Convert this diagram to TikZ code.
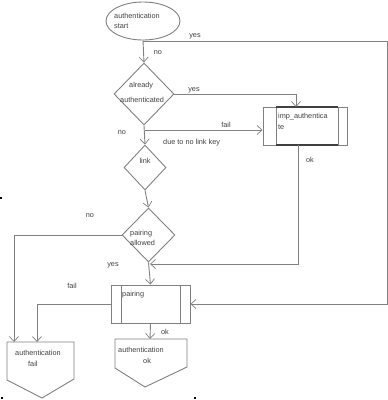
\documentclass[tikz,border=0pt]{standalone}
\usepackage{fontspec}
\setmainfont{Liberation Sans}
\usetikzlibrary{arrows.meta,shapes.geometric}
\definecolor{ln}{HTML}{808080}
\definecolor{tx}{HTML}{404040}
\tikzset{
  flow/.style={draw=ln,line width=0.9pt},
  arr/.style={flow,-{Straight Barb[length=5pt,width=9pt,line width=0.7pt]}},
  lbl/.style={text=tx,font=\fontsize{7.3}{9}\selectfont,inner sep=0pt,anchor=base},
  lblw/.style={lbl,anchor=base west},
  dia/.style={diamond,draw=ln,line width=0.9pt,inner sep=0pt,aspect=1},
  dot/.style={fill=black,draw=none,minimum size=2.5pt,inner sep=0pt,rectangle}
}
\begin{document}
\begin{tikzpicture}[x=1pt,y=-1pt]
\useasboundingbox (0,0) rectangle (388,400);
% start ellipse
\node[ellipse,draw=ln,line width=0.9pt,minimum width=74pt,minimum height=38pt,inner sep=0pt] (start) at (143,21) {};
\node[lblw] (tstart1) at (114,18) {authentication};
\node[lblw] (tstart2) at (114,28) {start};
% diamonds
\node[dia,minimum width=60pt,minimum height=62pt,aspect=0.97] (d1) at (144,94) {};
\node[lblw] (td1a) at (129,87) {already};
\node[lblw] (td1b) at (120,102) {authenticated};
\node[dia,minimum width=42pt,minimum height=45pt,aspect=0.93] (d2) at (145,167.5) {};
\node[lbl] (td2) at (145,163) {link};
\node[dia,minimum width=53pt,minimum height=54pt,aspect=0.98] (d3) at (148.5,235) {};
\node[lblw] (td3a) at (130,235) {pairing};
\node[lblw] (td3b) at (130,245) {allowed};
% imp_authenticate box
\node[draw=ln,line width=0.9pt,minimum width=84pt,minimum height=38pt,inner sep=0pt] (imp) at (305,126) {};
\draw[ln,line width=0.9pt] (276,107) -- (276,145) (338,107) -- (338,145);
\draw[black!75,line width=1.3pt] (276,107) -- (338,107) (276,145) -- (338,145);
\node[lblw] (timp1) at (278,118) {imp\_authentica};
\node[lblw] (timp2) at (278,129) {te};
% pairing box
\node[draw=ln,line width=0.9pt,minimum width=79pt,minimum height=38pt,inner sep=0pt] (pair) at (150.5,304) {};
\draw[ln,line width=0.9pt] (121,285) -- (121,323) (180,285) -- (180,323);
\node[lblw] (tpair) at (122,296) {pairing};
% terminal pentagons
\draw[flow] (7,342) -- (74,342) -- (74,379) -- (42,398) -- (7,380) -- cycle;
\coordinate (failA) at (14,342);
\coordinate (failB) at (37,342);
\node[lblw] (tfail1) at (15,355) {authentication};
\node[lblw] (tfail2) at (28,366) {fail};
\draw[flow] (115,339) -- (187,339) -- (187,367) -- (145,387) -- (115,368) -- cycle;
\coordinate (okT) at (150,339);
\node[lblw] (tok1) at (118,352) {authentication};
\node[lblw] (tok2) at (143,363) {ok};
% connectors
\draw[arr] (start.south) -- (d1.north);
\coordinate (j0) at (start.south);
\coordinate (rt) at (387,41);
\draw[arr] (j0 |- rt) -- (rt) -- (rt |- pair.east) -- (pair.east);
\draw[arr] (d1.east) -- (d1.east -| 296,0) -- (296,107);
\draw[arr] (d1.south) -- (d2.north);
\coordinate (j1) at (145,130);
\draw[arr] (j1) -- (j1 -| imp.west);
\draw[arr] (d2.south) -- (d3.north);
\draw[arr] (d3.west) -- (d3.west -| failA) -- (failA);
\coordinate (j2) at (150,264);
\draw[arr] (298,145) -- (298,264) -- (j2);
\draw[arr] (d3.south) -- (pair.north);
\draw[arr] (pair.west) -- (pair.west -| failB) -- (failB);
\draw[arr] (pair.south) -- (okT);
% labels
\node[lbl] (l1) at (195,37) {yes};
\node[lbl] (l2) at (158,54) {no};
\node[lbl] (l3) at (194,91) {yes};
\node[lbl] (l4) at (226,127) {fail};
\node[lblw] (l5) at (163,144) {due to no link key};
\node[lbl] (l6) at (122,134) {no};
\node[lbl] (l7) at (90,217) {no};
\node[lbl] (l8) at (310,162) {ok};
\node[lbl] (l9) at (113,266) {yes};
\node[lbl] (l10) at (72,288) {fail};
\node[lbl] (l11) at (165,334) {ok};
% marker dots
\node[dot] (m1) at (1,198) {};
\node[dot] (m2) at (2,398) {};
\node[dot] (m3) at (195,398) {};
\end{tikzpicture}
\end{document}
